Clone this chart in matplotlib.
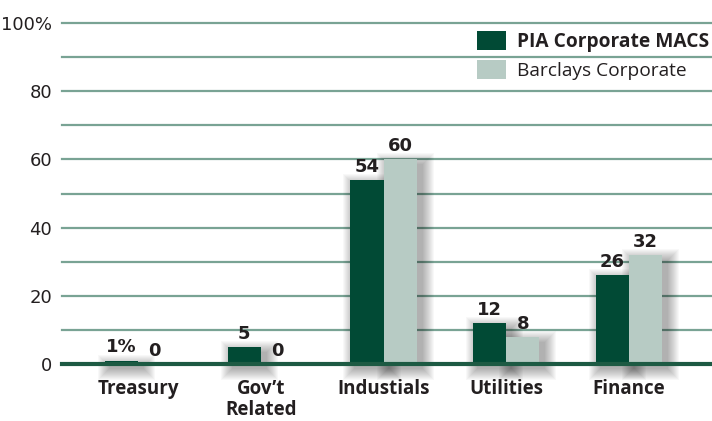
import numpy as np
import matplotlib
matplotlib.use("Agg")
import matplotlib.pyplot as plt
from matplotlib.patches import Patch, Rectangle
from matplotlib.transforms import ScaledTranslation

# Sector allocation, percent
categories = ["Treasury", "Gov\u2019t\nRelated", "Industials", "Utilities", "Finance"]
pia = [1, 5, 54, 12, 26]
barclays = [0, 0, 60, 8, 32]
pia_labels = ["1%", "5", "54", "12", "26"]
barclays_labels = ["0", "0", "60", "8", "32"]
series_names = ["PIA Corporate MACS", "Barclays Corporate"]
yticks = [0, 20, 40, 60, 80, 100]
ytick_labels = ["0", "20", "40", "60", "80", "100%"]

DARK = "#014a35"
LIGHT = "#b7cbc4"
GRID = "#79a394"
AXIS = "#1d5a43"
TEXT = "#231f20"

wide = ["Open Sans", "DejaVu Sans"]

fig = plt.figure(figsize=(7.12, 4.21), dpi=100)
ax = fig.add_axes([62 / 712, 57 / 421, 650 / 712, 341 / 421])

x = np.arange(len(categories))
w = 0.27
ax.set_xlim(-0.62, 4.676)
ax.set_ylim(0, 100)

# gridlines every 10
for g in range(10, 101, 10):
    ax.axhline(g, color=GRID, lw=1.6, zorder=1, clip_on=False)
ax.axhline(0, color=AXIS, lw=3, zorder=5, clip_on=False)

# soft drop shadow behind each bar
px_x = 650 / (4.676 + 0.62)
px_y = 341 / 100
off = ScaledTranslation(5 / 100, -4 / 100, fig.dpi_scale_trans)
for i in range(len(categories)):
    for xs, h in ((x[i] - w, pia[i]), (x[i], barclays[i])):
        if h <= 0:
            continue
        for r in range(1, 13):
            ax.add_patch(Rectangle((xs - r / px_x, -r / px_y), w + 2 * r / px_x,
                                   h + 2 * r / px_y - 2 / px_y,
                                   facecolor="black", alpha=0.026, lw=0,
                                   transform=ax.transData + off,
                                   clip_on=False, zorder=2))

ax.bar(x - w / 2, pia, w, color=DARK, zorder=3)
ax.bar(x + w / 2, barclays, w, color=LIGHT, zorder=3)

for i in range(len(categories)):
    ax.text(x[i] - w / 2, pia[i] + 1.2, pia_labels[i], ha="center", va="bottom",
            fontsize=13, fontweight="bold", family="DejaVu Sans", color=TEXT, zorder=6)
    ax.text(x[i] + w / 2, barclays[i] + 1.2, barclays_labels[i], ha="center", va="bottom",
            fontsize=13, fontweight="bold", family="DejaVu Sans", color=TEXT, zorder=6)

ax.set_yticks(yticks)
ax.set_yticklabels(ytick_labels, family="DejaVu Sans", fontsize=13, color=TEXT)
ax.set_xticks(x)
ax.set_xticklabels(categories, family=wide, fontsize=13.5, fontweight="bold",
                   color=TEXT, linespacing=1.02, va="top")
ax.tick_params(axis="both", length=0)
ax.tick_params(axis="y", pad=7)
ax.tick_params(axis="x", pad=11)
for s in ax.spines.values():
    s.set_visible(False)

handles = [Patch(facecolor=DARK), Patch(facecolor=LIGHT)]
leg = ax.legend(handles, series_names, loc="upper left", frameon=False,
                bbox_to_anchor=(477 / 712, 1 - 31 / 421), bbox_transform=fig.transFigure,
                borderpad=0, borderaxespad=0, handlelength=1.5, handleheight=1.15,
                handletextpad=0.6, labelspacing=0.4,
                prop={"family": wide, "size": 13.8})
for t in leg.get_texts():
    t.set_color(TEXT)
leg.get_texts()[0].set_fontweight("bold")

fig.savefig("out.png", dpi=100)
